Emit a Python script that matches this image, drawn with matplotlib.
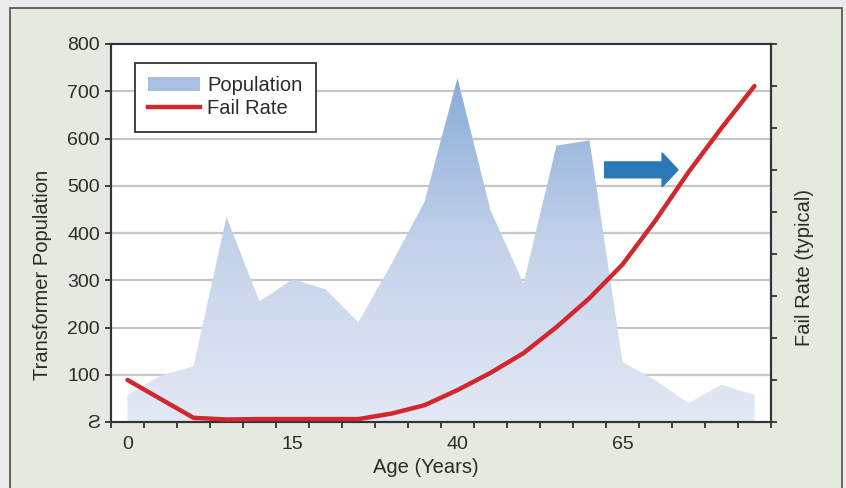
import numpy as np
import matplotlib
matplotlib.use("Agg")
import matplotlib.pyplot as plt
from matplotlib.patches import Rectangle, Patch, FancyArrow
from matplotlib.lines import Line2D
from matplotlib.colors import LinearSegmentedColormap

plt.rcParams['font.family'] = ['Liberation Sans', 'DejaVu Sans']

# datos (20 categorias de edad)
population = [57, 98, 118, 434, 255, 302, 281, 211, 335, 466,
              728, 448, 293, 585, 596, 127, 88, 40, 79, 57]
fail_rate = [1.0, 0.55, 0.1, 0.06, 0.07, 0.07, 0.07, 0.07, 0.2, 0.4,
             0.76, 1.17, 1.64, 2.26, 2.95, 3.75, 4.8, 5.95, 7.0, 8.0]
tick_pos = [0, 5, 10, 15]
tick_labels = ["0", "15", "40", "65"]
y_ticks = [0, 100, 200, 300, 400, 500, 600, 700, 800]
y_labels = ["\u01a7", "100", "200", "300", "400", "500", "600", "700", "800"]

TXT = '#2b2b2b'
W, H = 846, 488
fig = plt.figure(figsize=(W / 100, H / 100), dpi=100)
fig.patch.set_facecolor('#ebebeb')

# panel de fondo
panel = Rectangle((10 / W, -0.05), (842 - 10) / W, 1.05 - 8 / H,
                  transform=fig.transFigure, facecolor='#e4eadf',
                  edgecolor='#5a5a5a', linewidth=1.3, zorder=-10)
fig.add_artist(panel)

ax = fig.add_axes([111 / W, 1 - 422 / H, (771 - 111) / W, (422 - 44) / H])
ax.set_facecolor('white')
x = np.arange(len(population))

# lineas de cuadricula
for v in y_ticks[1:-1]:
    ax.axhline(v, color='#c6c6c6', linewidth=1.6, zorder=1)

# area con degradado
poly = ax.fill_between(x, 0, population, facecolor='none', edgecolor='none', zorder=2)
cmap = LinearSegmentedColormap.from_list('pop', ['#e3e9f5', '#c3d2ea', '#84a9d6'])
grad = np.linspace(0, 1, 256).reshape(-1, 1)
img = ax.imshow(grad, cmap=cmap, origin='lower', aspect='auto',
                extent=[-0.5, len(population) - 0.5, 0, 750], zorder=2)
img.set_clip_path(poly.get_paths()[0], transform=ax.transData)
ax.set_xlim(-0.5, len(population) - 0.5)
ax.set_ylim(0, 800)

# ejes
for s in ax.spines.values():
    s.set_color('#333333')
    s.set_linewidth(1.5)
ax.set_yticks(y_ticks)
ax.set_yticklabels(y_labels)
ax.set_xticks(tick_pos)
ax.set_xticklabels(tick_labels)
ax.set_xticks(np.arange(-0.5, len(population)), minor=True)
ax.tick_params(axis='x', which='major', length=0, pad=10, labelsize=14, labelcolor=TXT)
ax.tick_params(axis='x', which='minor', length=4.5, width=1.3, color='#333333', direction='out')
ax.tick_params(axis='y', length=4, width=1.3, color='#333333', pad=4, labelsize=14,
               labelcolor=TXT)
ax.set_xlabel("Age (Years)", fontsize=14.5, color=TXT)
ax.xaxis.set_label_coords(0.477, -0.095)
ax.set_ylabel("Transformer Population", fontsize=14.5, color=TXT)
ax.yaxis.set_label_coords(-0.09, 0.39)

# eje derecho: tasa de fallos
ax2 = ax.twinx()
ax2.set_ylim(0, 9)
ax2.set_yticks(np.arange(0, 10))
ax2.set_yticklabels([])
ax2.tick_params(axis='y', length=4, width=1.3, color='#333333')
for s in ax2.spines.values():
    s.set_color('#333333')
    s.set_linewidth(1.5)
ax2.plot(x, fail_rate, color='#d0282c', linewidth=3.2, solid_capstyle='round', zorder=3)
ax2.set_ylabel("Fail Rate (typical)", fontsize=14.5, color=TXT)
ax2.yaxis.set_label_coords(1.036, 0.41)

# flecha
arrow = FancyArrow(0.748, 0.667, 0.087, 0, width=0.042, head_width=0.09,
                   head_length=0.024, length_includes_head=False,
                   transform=ax.transAxes, color='#2b78b9', zorder=4)
ax2.add_patch(arrow)

# leyenda
handles = [Patch(facecolor='#a9c0e1', edgecolor='none'),
           Line2D([0], [0], color='#d0282c', linewidth=3.2)]
leg = ax2.legend(handles, ["Population", "Fail Rate"], loc='upper left',
                 bbox_to_anchor=(0.036, 0.95), borderaxespad=0, fancybox=False,
                 framealpha=1, edgecolor='#333333', fontsize=14.5,
                 handlelength=2.6, handleheight=0.7, handletextpad=0.35,
                 labelspacing=0.22, borderpad=0.65)
leg.get_frame().set_linewidth(1.3)
for t in leg.get_texts():
    t.set_color(TXT)

fig.savefig("out.png", dpi=100, facecolor=fig.get_facecolor())
